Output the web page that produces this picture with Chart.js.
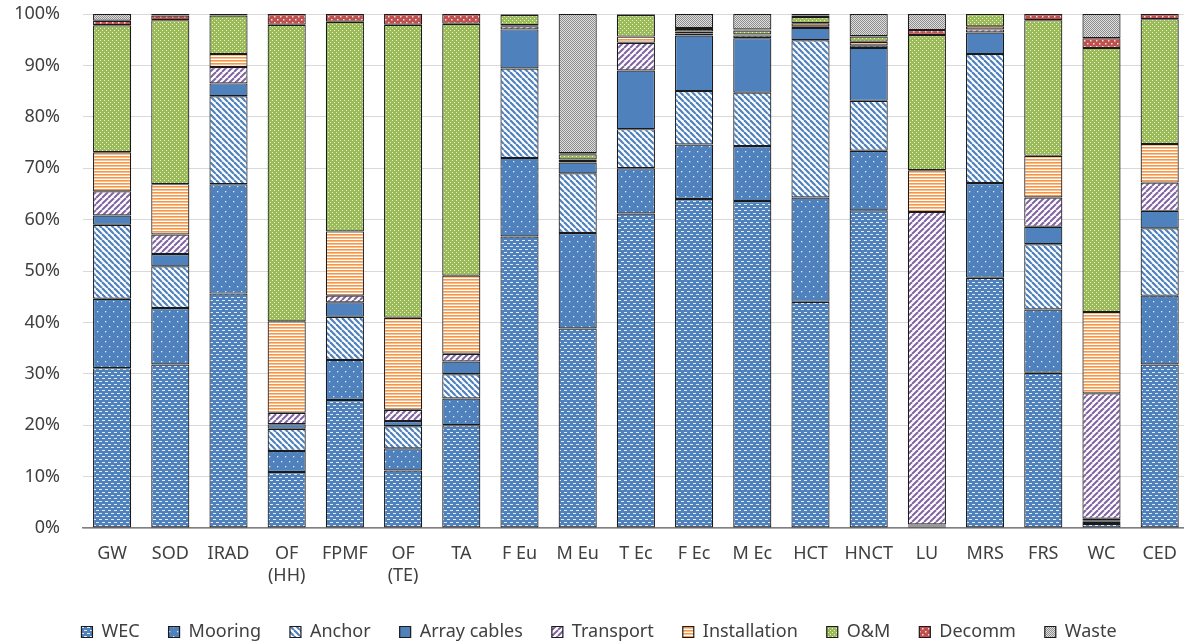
<!DOCTYPE html>
<html>
<head>
<meta charset="utf-8">
<script src="https://cdn.jsdelivr.net/npm/chart.js@4.4.1/dist/chart.umd.min.js"></script>
<style>
html,body{margin:0;padding:0;background:#fff;overflow:hidden;width:1184px;height:644px;}
canvas{display:block;}
</style>
</head>
<body>
<canvas id="c" width="1192" height="651"></canvas>
<script>
const categories = ['GW','SOD','IRAD',['OF','(HH)'],'FPMF',['OF','(TE)'],'TA','F Eu','M Eu','T Ec','F Ec','M Ec','HCT','HNCT','LU','MRS','FRS','WC','CED'];
const yTicks = [0,10,20,30,40,50,60,70,80,90,100];

const wec        = [31.1,31.8,45.6,10.9,24.9,11.2,20.0,56.7,38.8,61.2,64.0,63.6,44.0,61.8,0.3,48.7,30.2,0.8,31.8];
const mooring    = [13.5,11.0,21.3,4.1,7.8,4.3,5.2,15.3,18.6,8.8,10.6,10.7,20.3,11.6,0.2,18.4,12.3,0.4,13.4];
const anchor     = [14.4,8.1,17.1,4.3,8.4,4.3,4.7,17.4,11.6,7.6,10.4,10.4,30.6,9.7,0.1,25.1,12.7,0.3,13.1];
const arrayCables= [1.8,2.4,2.5,0.9,2.8,1.0,2.5,7.6,2.1,11.4,10.8,10.6,2.4,10.3,0.1,4.2,3.4,0.3,3.4];
const transport  = [4.7,3.8,3.2,2.2,1.3,2.2,1.5,0.6,0.3,5.4,0.4,0.5,0.3,0.5,60.8,0.6,5.7,24.4,5.5];
const installation=[7.6,9.8,2.5,17.8,12.5,17.9,15.2,0.2,0.3,1.2,0.4,0.2,0.6,0.7,8.1,0.6,8.1,15.8,7.5];
const om         = [24.7,31.9,7.5,57.7,40.8,57.0,49.0,2.0,1.0,4.2,0.5,0.8,1.2,1.0,26.3,2.4,26.4,51.4,24.3];
const decomm     = [0.9,0.9,0.1,2.1,1.5,2.1,1.9,0.1,0.2,0.1,0.2,0.2,0.3,0.1,1.0,0,1.2,1.9,1.0];
const waste      = [1.3,0.3,0.2,0,0,0,0,0.1,27.1,0.1,2.7,3.0,0.3,4.3,3.1,0,0,4.7,0];

function makePattern(w, h, draw) {
  const c = document.createElement('canvas');
  c.width = w; c.height = h;
  const x = c.getContext('2d');
  draw(x, w, h);
  return x.createPattern(c, 'repeat');
}
const ctx = document.getElementById('c').getContext('2d');

const pWEC = makePattern(6, 6, (x) => {
  x.fillStyle = '#4F81BD'; x.fillRect(0,0,6,6);
  x.fillStyle = 'rgba(255,255,255,0.85)';
  x.fillRect(0,0,3,1); x.fillRect(3,3,3,1);
});
const pMooring = makePattern(8, 10, (x) => {
  x.fillStyle = '#4F81BD'; x.fillRect(0,0,8,10);
  x.fillStyle = 'rgba(255,255,255,0.85)';
  x.fillRect(1,1,1.3,1.3); x.fillRect(5,6,1.3,1.3);
});
const pAnchor = makePattern(6, 6, (x) => {
  x.fillStyle = '#ffffff'; x.fillRect(0,0,6,6);
  x.strokeStyle = '#4F81BD'; x.lineWidth = 2.2;
  for (const o of [-6,0,6]) { x.beginPath(); x.moveTo(o,0); x.lineTo(o+6,6); x.stroke(); }
});
const pArray = '#4F81BD';
const pTransport = makePattern(6, 6, (x) => {
  x.fillStyle = '#ffffff'; x.fillRect(0,0,6,6);
  x.strokeStyle = '#8064A2'; x.lineWidth = 2;
  for (const o of [-6,0,6]) { x.beginPath(); x.moveTo(o,6); x.lineTo(o+6,0); x.stroke(); }
});
const pInstall = makePattern(4, 3, (x) => {
  x.fillStyle = '#ffffff'; x.fillRect(0,0,4,3);
  x.fillStyle = '#F79646'; x.fillRect(0,0,4,1.6);
});
const pOM = makePattern(4, 4, (x) => {
  x.fillStyle = '#9BBB59'; x.fillRect(0,0,4,4);
  x.fillStyle = 'rgba(255,255,255,0.75)';
  x.fillRect(0,0,1,1); x.fillRect(2,2,1,1);
});
const pDecomm = makePattern(6, 6, (x) => {
  x.fillStyle = '#C0504D'; x.fillRect(0,0,6,6);
  x.fillStyle = 'rgba(255,255,255,0.85)';
  x.fillRect(1,1,1.5,1.5); x.fillRect(4,4,1.5,1.5);
});
const pWaste = makePattern(2, 2, (x) => {
  x.fillStyle = '#e0e0e0'; x.fillRect(0,0,2,2);
  x.fillStyle = '#8c8c8c'; x.fillRect(0,0,1,1); x.fillRect(1,1,1,1);
});

function ds(label, data, bg) {
  return { label, data, backgroundColor: bg, borderColor: '#1a1a1a', borderWidth: 1.2, borderSkipped: false,
           barPercentage: 0.655, categoryPercentage: 1.0 };
}

new Chart(ctx, {
  type: 'bar',
  data: {
    labels: categories,
    datasets: [
      ds('WEC', wec, pWEC),
      ds('Mooring', mooring, pMooring),
      ds('Anchor', anchor, pAnchor),
      ds('Array cables', arrayCables, pArray),
      ds('Transport', transport, pTransport),
      ds('Installation', installation, pInstall),
      ds('O&M', om, pOM),
      ds('Decomm', decomm, pDecomm),
      ds('Waste', waste, pWaste)
    ]
  },
  options: {
    responsive: false,
    devicePixelRatio: 1,
    animation: false,
    layout: { padding: { top: 14, left: 8, right: 2, bottom: 0 } },
    plugins: {
      tooltip: { enabled: false },
      legend: {
        position: 'bottom',
        labels: {
          boxWidth: 11, boxHeight: 11, padding: 29,
          color: '#404040',
          font: { family: 'Noto Sans', size: 18 }
        }
      }
    },
    scales: {
      x: {
        stacked: true,
        grid: { display: false, drawTicks: false },
        border: { display: true, color: '#808080', width: 1.5 },
        ticks: { color: '#404040', padding: 15, maxRotation: 0, autoSkip: false,
                 font: { family: 'Noto Sans', size: 18 } },
        afterFit: (s) => { s.height = 66; }
      },
      y: {
        stacked: true,
        min: 0, max: 100,
        afterBuildTicks: (s) => { s.ticks = yTicks.map(v => ({ value: v })); },
        grid: { color: '#d9d9d9', lineWidth: 1, drawTicks: true, tickLength: 23, tickColor: 'rgba(0,0,0,0)' },
        border: { display: false },
        ticks: { color: '#404040', padding: 0, callback: (v) => v + '%',
                 font: { family: 'Noto Sans', size: 18 } },
        afterFit: (s) => { s.width = 75; }
      }
    }
  }
});
</script>
</body>
</html>
